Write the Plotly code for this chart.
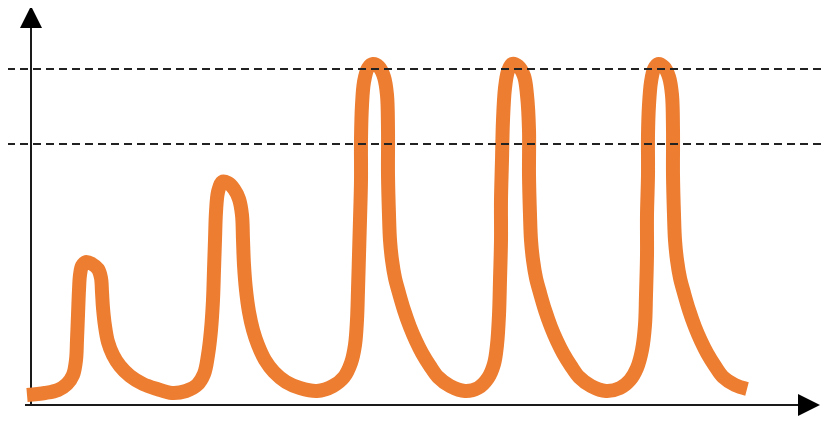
import plotly.graph_objects as go

# Signal trace; origin at the axes' intersection (one row per pulse)
time = (
    [-4, 14, 27, 36, 42, 45, 46, 47, 48, 49, 51, 55, 61, 67, 70, 71, 72, 74, 77, 82, 89, 99,
     112, 126, 141, 155, 166, 173, 177, 180]
    + [182, 183, 184, 185, 187, 191, 197, 203, 208, 211, 212, 213, 215, 218, 222, 227, 234,
       243, 255, 269, 286]
    + [302, 313, 320, 324, 326, 327, 328, 329, 330, 330, 331, 333, 337, 342, 348, 353, 356,
       357, 357, 358, 359, 361, 364, 368, 373, 379, 385, 391, 399, 407, 419, 434]
    + [447, 457, 463, 466, 468, 469, 470, 470, 471, 472, 474, 477, 481, 487, 493, 496, 498,
       498, 499, 500, 502, 505, 509, 514, 520, 526, 532, 540, 548, 560, 575]
    + [589, 599, 606, 611, 614, 615, 616, 616, 617, 617, 618, 620, 623, 627, 633, 638, 641,
       642, 642, 643, 644, 646, 649, 653, 658, 664, 670, 676, 684, 692, 704, 716]
)
level = (
    [10, 12, 15, 21, 30, 45, 65, 90, 115, 130, 139, 143, 141, 136, 127, 113, 97, 79, 63, 50,
     39, 29, 21, 16, 12, 14, 20, 31, 50, 75]
    + [105, 135, 165, 193, 213, 223, 222, 216, 206, 190, 165, 140, 115, 93, 75, 60, 45,
       33, 23, 17, 14]
    + [19, 28, 42, 60, 85, 115, 150, 185, 225, 265, 300, 323, 337, 341, 338, 328, 310,
       275, 230, 190, 165, 145, 127, 112, 95, 78, 64, 52, 39, 28, 19, 14]
    + [17, 27, 41, 60, 90, 125, 165, 205, 245, 285, 317, 334, 341, 339, 329, 310, 275,
       230, 190, 165, 145, 127, 112, 95, 78, 64, 52, 39, 28, 19, 14]
    + [17, 25, 37, 55, 80, 110, 150, 190, 230, 270, 300, 323, 336, 341, 338, 328, 310,
       275, 230, 190, 165, 145, 127, 112, 95, 78, 64, 52, 39, 28, 20, 16]
)

# Threshold levels (dashed lines)
thresholds = [336, 261]
threshold_span = [-24, 791]

# Axis extents
x_axis_end = 767
y_axis_end = 377
arrow_len = 22
arrow_half = 11

ORANGE = "#ED7D31"
AXIS = "#1a1a1a"

fig = go.Figure()
fig.add_trace(go.Scatter(
    x=time, y=level, mode="lines",
    line=dict(color=ORANGE, width=14, shape="spline", smoothing=1.0, simplify=False),
    hoverinfo="skip", showlegend=False,
))

shapes = []
# axes
shapes.append(dict(type="line", xref="x", yref="y", x0=0, y0=-1, x1=0, y1=y_axis_end,
                   line=dict(color=AXIS, width=2), layer="below"))
shapes.append(dict(type="line", xref="x", yref="y", x0=-6, y0=0, x1=x_axis_end, y1=0,
                   line=dict(color=AXIS, width=2), layer="below"))
# arrow heads
shapes.append(dict(type="path", xref="x", yref="y",
                   path=f"M {-arrow_half},{y_axis_end} L {arrow_half},{y_axis_end} L 0,{y_axis_end + arrow_len} Z",
                   fillcolor="#000000", line=dict(width=0), layer="above"))
shapes.append(dict(type="path", xref="x", yref="y",
                   path=f"M {x_axis_end},{-arrow_half} L {x_axis_end},{arrow_half} L {x_axis_end + arrow_len},0 Z",
                   fillcolor="#000000", line=dict(width=0), layer="above"))
# dashed threshold lines
for t in thresholds:
    shapes.append(dict(type="line", xref="x", yref="y", x0=threshold_span[0], y0=t,
                       x1=threshold_span[1], y1=t,
                       line=dict(color="#222222", width=2, dash="8px,5px"), layer="above"))

# page has an 8px body margin, so the figure starts at (8, 8) in the window
fig.update_layout(
    width=829, height=417,
    margin=dict(l=0, r=0, t=0, b=0),
    paper_bgcolor="white", plot_bgcolor="white",
    xaxis=dict(range=[-23, 806], visible=False, fixedrange=True),
    yaxis=dict(range=[-20, 397], visible=False, fixedrange=True),
    shapes=shapes,
    showlegend=False,
)

fig.write_html("out.html", config={"displayModeBar": False})
